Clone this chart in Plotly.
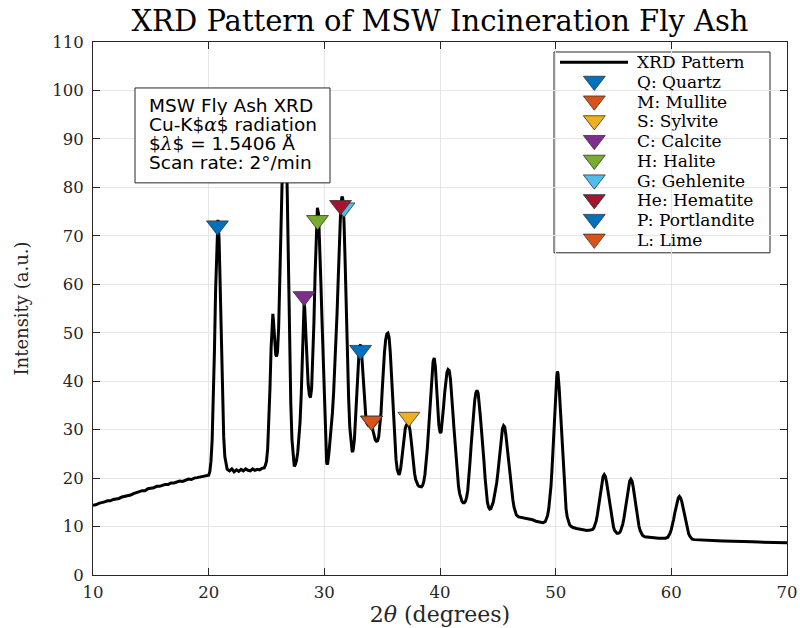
import plotly.graph_objects as go

# ---------------- data ----------------
two_theta = [
    10.0, 10.25, 10.5, 10.75, 11.0, 11.25, 11.5, 11.75, 12.0, 12.25, 12.5, 12.75, 13.0, 13.25, 13.5, 13.75,
    14.0, 14.25, 14.5, 14.75, 15.0, 15.25, 15.5, 15.75, 16.0, 16.25, 16.5, 16.75, 17.0, 17.25, 17.5, 17.75,
    18.0, 18.25, 18.5, 18.75, 19.0, 19.25, 19.5, 19.75, 20.0,
    20.1, 20.2, 20.3, 20.4, 20.5, 20.6, 20.7, 20.8, 20.9, 21.0, 21.1, 21.2, 21.3, 21.4, 21.5, 21.6,
    21.8, 22.0, 22.2, 22.4, 22.6, 22.8, 23.0, 23.2, 23.4, 23.6, 23.8, 24.0, 24.2, 24.4, 24.6, 24.8, 24.9,
    25.0, 25.1, 25.2, 25.3, 25.4, 25.5, 25.55, 25.6, 25.7, 25.8, 25.87, 25.95, 26.05, 26.15, 26.25, 26.35,
    26.45, 26.53, 26.6, 26.7, 26.8, 26.9, 27.0, 27.1, 27.2, 27.3, 27.4,
    27.5, 27.6, 27.7, 27.8, 27.9, 28.0, 28.1, 28.2, 28.25, 28.3, 28.4, 28.5, 28.6, 28.7, 28.8, 28.9,
    29.0, 29.1, 29.2, 29.3, 29.4, 29.5, 29.6, 29.7, 29.8, 29.9, 30.0, 30.1, 30.2, 30.25, 30.3, 30.4,
    30.5, 30.6, 30.7, 30.8, 30.9, 31.0, 31.1, 31.2, 31.3, 31.4, 31.5, 31.55, 31.6, 31.7, 31.8, 31.9,
    32.0, 32.1, 32.2, 32.3, 32.4, 32.45, 32.5, 32.6, 32.7, 32.8, 32.9, 33.0, 33.1, 33.15, 33.2, 33.3,
    33.4, 33.5, 33.6, 33.7, 33.8, 33.9, 34.0, 34.1, 34.2, 34.3, 34.4, 34.5, 34.6, 34.7, 34.8, 34.9,
    35.0, 35.1, 35.2, 35.3, 35.4, 35.5, 35.6, 35.7, 35.8, 35.9, 36.0, 36.1, 36.2, 36.3, 36.4, 36.45,
    36.5, 36.6, 36.7, 36.8, 36.9, 37.0, 37.1, 37.2, 37.3, 37.4, 37.5, 37.6, 37.7, 37.8, 37.9, 38.0,
    38.1, 38.2, 38.3, 38.4, 38.5, 38.6, 38.7, 38.8, 38.9, 39.0, 39.1, 39.2, 39.3, 39.4, 39.5, 39.6,
    39.7, 39.8, 39.9, 40.0, 40.05, 40.1, 40.2, 40.3, 40.4, 40.5, 40.6, 40.7, 40.8, 40.9, 41.0, 41.1,
    41.2, 41.3, 41.4, 41.5, 41.6, 41.7, 41.8, 41.9, 42.0, 42.1, 42.2, 42.3, 42.4, 42.5, 42.6, 42.7,
    42.8, 42.9, 43.0, 43.1, 43.2, 43.3, 43.4, 43.5, 43.6, 43.7, 43.8, 43.9, 44.0, 44.1, 44.2, 44.3,
    44.4, 44.5, 44.6, 44.7, 44.8, 44.9, 45.0, 45.1, 45.2, 45.3, 45.4, 45.5, 45.6, 45.7, 45.8, 45.9,
    46.0, 46.1, 46.2, 46.3, 46.4, 46.5, 46.6, 46.8, 47.0, 47.3, 47.6, 48.0, 48.3, 48.6, 48.9,
    49.1, 49.2, 49.3, 49.4, 49.5, 49.6, 49.7, 49.8, 49.9, 50.0, 50.1, 50.15, 50.2, 50.3, 50.4, 50.5,
    50.6, 50.7, 50.8, 50.9, 51.0, 51.1, 51.2, 51.3, 51.5, 51.8, 52.1, 52.4, 52.7, 53.0, 53.2,
    53.3, 53.4, 53.5, 53.6, 53.7, 53.8, 53.9, 54.0, 54.1, 54.2, 54.3, 54.4, 54.5, 54.6, 54.7, 54.8,
    54.9, 55.0, 55.1, 55.2, 55.3, 55.4, 55.5, 55.6, 55.7, 55.8, 55.9, 56.0, 56.1, 56.2, 56.3, 56.4,
    56.5, 56.6, 56.7, 56.8, 56.9, 57.0, 57.1, 57.2, 57.3, 57.4, 57.5, 57.7, 58.0, 58.3, 58.6, 58.9,
    59.2, 59.5, 59.7, 59.8, 59.9, 60.0, 60.1, 60.2, 60.3, 60.4, 60.5, 60.6, 60.7, 60.8, 60.9, 61.0,
    61.1, 61.2, 61.3, 61.4, 61.5, 61.6, 61.7, 61.8, 62.0, 62.5, 63.0, 63.5, 64.0, 64.5, 65.0, 65.5,
    66.0, 66.5, 67.0, 67.5, 68.0, 68.5, 69.0, 69.5, 70.0,
]
intensity = [
    14.4, 14.5, 14.8, 14.9, 15.1, 15.3, 15.3, 15.6, 15.7, 15.8, 16.1, 16.2, 16.4, 16.5, 16.8, 17.0,
    17.1, 17.4, 17.4, 17.8, 17.9, 18.0, 18.3, 18.3, 18.5, 18.7, 18.7, 19.0, 19.0, 19.2, 19.4, 19.3,
    19.6, 19.8, 19.7, 20.0, 20.1, 20.2, 20.3, 20.5, 20.6,
    21.3, 23.5, 27.8, 35.3, 46.3, 58.8, 69.2, 73.3, 69.4, 59.2, 46.8, 35.9, 28.5, 24.4, 22.5, 21.8,
    21.5, 21.9, 21.3, 21.7, 21.4, 21.8, 21.5, 21.9, 21.6, 21.5, 21.9, 21.6, 21.8, 21.7, 22.0, 22.1, 22.6,
    23.5, 26.0, 31.0, 38.5, 47.0, 53.5, 53.9, 52.5, 48.5, 45.5, 45.1, 46.0, 51.0, 61.0, 74.0, 87.0,
    96.5, 99.5, 98.0, 90.5, 78.0, 62.0, 47.5, 35.5, 28.0, 24.0, 22.4,
    22.8, 23.7, 25.3, 27.8, 31.5, 37.0, 45.5, 53.5, 56.0, 55.2, 49.5, 43.5, 39.5, 37.2, 36.6, 38.5,
    44.0, 52.0, 62.0, 71.0, 75.8, 74.5, 68.5, 60.5, 52.5, 44.5, 35.5, 27.0, 23.2, 22.8, 23.2, 25.2,
    27.8, 30.5, 33.5, 37.5, 42.0, 47.2, 54.0, 61.0, 68.5, 74.5, 77.8, 78.1, 77.5, 73.0, 64.5, 54.0,
    44.5, 36.5, 30.5, 27.0, 25.6, 25.4, 25.9, 28.0, 32.0, 37.5, 42.5, 46.0, 47.4, 47.5, 46.6, 43.0,
    38.5, 34.5, 32.2, 31.2, 30.9, 31.1, 31.2, 30.8, 29.8, 28.6, 27.9, 27.6, 27.7, 28.5, 30.5, 33.5,
    38.0, 42.5, 46.0, 48.5, 49.7, 49.9, 49.0, 46.0, 41.5, 36.5, 31.5, 27.0, 23.8, 21.8, 20.8, 20.7,
    20.9, 22.0, 24.0, 26.5, 28.8, 30.3, 31.0, 31.2, 31.0, 30.0, 28.0, 25.5, 23.0, 21.0, 19.7, 18.9,
    18.5, 18.3, 18.2, 18.2, 18.5, 19.3, 20.8, 23.0, 26.0, 29.5, 33.0, 37.0, 41.0, 44.0, 44.8, 43.0,
    39.0, 34.5, 31.0, 29.5, 29.3, 29.6, 31.5, 34.5, 37.5, 40.0, 41.8, 42.4, 42.2, 40.5, 38.0, 34.0,
    30.5, 27.0, 23.5, 20.5, 18.3, 16.8, 15.8, 15.2, 14.9, 14.9, 15.2, 16.0, 17.5, 20.0, 23.5, 27.0,
    30.5, 33.5, 36.0, 37.6, 38.1, 37.5, 35.5, 32.5, 29.5, 27.0, 23.5, 20.0, 17.0, 15.0, 14.0, 13.6,
    13.7, 14.2, 15.0, 16.3, 17.5, 19.0, 21.0, 23.5, 26.0, 28.5, 30.2, 30.8, 30.5, 28.8, 26.5, 24.0,
    21.5, 19.0, 17.0, 15.5, 14.0, 13.0, 12.4, 12.0, 11.9, 11.8, 11.5, 11.4, 11.1, 11.0, 10.8,
    11.0, 11.5, 12.3, 13.6, 15.5, 18.5, 22.6, 27.6, 33.0, 37.8, 41.2, 42.0, 41.6, 38.7, 34.5, 29.3,
    24.0, 19.5, 16.0, 13.6, 12.0, 11.0, 10.4, 10.1, 9.8, 9.6, 9.5, 9.4, 9.2, 9.3, 9.4,
    9.7, 10.3, 11.1, 12.4, 13.9, 15.7, 17.6, 19.2, 20.3, 20.7, 20.3, 19.2, 17.6, 15.6, 13.7, 12.1,
    10.8, 9.9, 9.2, 8.8, 8.6, 8.6, 8.7, 9.0, 9.6, 10.5, 11.7, 13.2, 14.9, 16.7, 18.3, 19.4,
    19.8, 19.4, 18.2, 16.5, 14.6, 12.8, 11.3, 10.1, 9.2, 8.6, 8.2, 7.9, 7.8, 7.7, 7.7, 7.6,
    7.6, 7.6, 7.8, 8.2, 8.7, 9.4, 10.3, 11.5, 12.8, 14.1, 15.2, 15.9, 16.2, 15.9, 15.2, 14.1,
    12.8, 11.4, 10.2, 9.2, 8.5, 8.0, 7.6, 7.4, 7.3, 7.2, 7.15, 7.1, 7.05, 7.0, 7.0, 6.95,
    6.9, 6.85, 6.85, 6.8, 6.8, 6.75, 6.7, 6.7, 6.65,
]

phase_labels = ["Q: Quartz", "M: Mullite", "S: Sylvite", "C: Calcite", "H: Halite",
                "G: Gehlenite", "He: Hematite", "P: Portlandite", "L: Lime"]
phase_x = [20.76, 34.08, 37.31, 28.25, 29.41, 31.70, 31.40, 33.13, 34.08]
phase_y = [72.1, 31.8, 32.6, 57.5, 73.2, 75.8, 76.3, 46.4, 31.8]
phase_colors = ["#0072BD", "#D95319", "#EDB120", "#7E2F8E", "#77AC30",
                "#4DBEEE", "#A2142F", "#0072BD", "#D95319"]
curve_label = "XRD Pattern"

info_lines = [
    "MSW Fly Ash XRD",
    "Cu-K$<span style='font-family:DejaVu Serif'><i>α</i></span>$ radiation",
    "$<span style='font-family:DejaVu Serif'><i>λ</i></span>$ = 1.5406 Å",
    "Scan rate: 2°/min",
]
x_ticks = [10, 20, 30, 40, 50, 60, 70]
y_ticks = [0, 10, 20, 30, 40, 50, 60, 70, 80, 90, 100, 110]

# ---------------- geometry helpers (pixel layout of the reference) ----------------
W, H = 800, 628
PL, PR, PT, PB = 93, 787, 42, 575.5          # plot area in window pixels


def px_x(p):
    return (p - PL) / (PR - PL)


def px_y(p):
    return (PB - p) / (PB - PT)


SERIF = "DejaVu Serif"
AX = "#262626"
MK_SIZE = 19
MK_LINE = dict(color="#333333", width=0.8)

fig = go.Figure()
fig.add_trace(go.Scatter(x=two_theta, y=intensity, mode="lines", name=curve_label,
                         line=dict(color="black", width=3), showlegend=False))
for lab, mx, my, col in zip(phase_labels, phase_x, phase_y, phase_colors):
    fig.add_trace(go.Scatter(x=[mx], y=[my], mode="markers", name=lab, showlegend=False,
                             marker=dict(symbol="triangle-down", size=MK_SIZE, color=col,
                                         line=MK_LINE)))

# ---------------- legend box (drawn by hand for exact row spacing) ----------------
LEG_L, LEG_R, LEG_T, LEG_B = 554, 770, 52, 253
ROW0, ROW_STEP = 62.3, 19.75
fig.add_shape(type="rect", xref="paper", yref="paper",
              x0=px_x(LEG_L), x1=px_x(LEG_R), y0=px_y(LEG_B), y1=px_y(LEG_T),
              line=dict(color=AX, width=1), fillcolor="white", layer="between")
fig.add_shape(type="line", xref="paper", yref="paper",
              x0=px_x(560), x1=px_x(628), y0=px_y(ROW0), y1=px_y(ROW0),
              line=dict(color="black", width=3), layer="above")
leg_rows = [ROW0 + ROW_STEP * (k + 1) for k in range(len(phase_labels))]
fig.add_trace(go.Scatter(x=[px_x(594.3)] * len(leg_rows), y=[px_y(r - 1.0) for r in leg_rows],
                         xaxis="x2", yaxis="y2", mode="markers", showlegend=False,
                         hoverinfo="skip",
                         marker=dict(symbol="triangle-down", size=MK_SIZE, color=phase_colors,
                                     line=MK_LINE)))
for k, lab in enumerate([curve_label] + phase_labels):
    fig.add_annotation(xref="paper", yref="paper", x=px_x(635), y=px_y(ROW0 + ROW_STEP * k),
                       xanchor="left", yanchor="middle", showarrow=False, text=lab,
                       height=19.5, valign="middle",
                       font=dict(family=SERIF, size=17, color="black"))

# ---------------- info box ----------------
fig.add_shape(type="rect", xref="paper", yref="paper",
              x0=px_x(135), x1=px_x(330), y0=px_y(183), y1=px_y(88),
              line=dict(color=AX, width=1), fillcolor="white", layer="above")
for txt, cy in zip(info_lines, [106, 125, 144, 162.5]):
    fig.add_annotation(xref="paper", yref="paper", x=px_x(147), y=px_y(cy),
                       xanchor="left", yanchor="middle", showarrow=False, text=txt,
                       height=19, valign="middle",
                       font=dict(family="DejaVu Sans", size=18.5, color="black"))

axis_common = dict(showline=True, linecolor=AX, linewidth=1, mirror="ticks",
                   ticks="inside", ticklen=7, tickcolor=AX, tickwidth=1,
                   showgrid=True, gridcolor="#e6e6e6", gridwidth=1, zeroline=False,
                   tickfont=dict(family=SERIF, size=16.5, color=AX))

fig.update_layout(
    width=W, height=H,
    margin=dict(l=PL, r=W - PR, t=PT, b=H - PB, autoexpand=False),
    paper_bgcolor="white", plot_bgcolor="white",
    showlegend=False,
    title=dict(text="XRD Pattern of MSW Incineration Fly Ash", x=0.5, xref="paper",
               xanchor="center", y=1 - 20.5 / H, yanchor="middle",
               font=dict(family=SERIF, size=29, color="black")),
    xaxis=dict(range=[10, 70], tickvals=x_ticks, ticktext=[str(v) for v in x_ticks],
               ticklabelstandoff=2,
               title=dict(text="2<i>θ</i> (degrees)", standoff=0,
                          font=dict(family=SERIF, size=22, color=AX)),
               **axis_common),
    yaxis=dict(range=[0, 110], tickvals=y_ticks, ticktext=[str(v) for v in y_ticks],
               ticklabelstandoff=5,
               title=dict(text="Intensity (a.u.)", standoff=18,
                          font=dict(family=SERIF, size=18, color=AX)),
               **axis_common),
    xaxis2=dict(overlaying="x", range=[0, 1], visible=False, fixedrange=True),
    yaxis2=dict(overlaying="y", range=[0, 1], visible=False, fixedrange=True),
)

# remove the browser's default 8px body margin so the figure fills the window exactly
fig.write_html("out.html",
               config={"displayModeBar": False},
               post_script="document.body.style.margin='0';document.body.style.padding='0';")
